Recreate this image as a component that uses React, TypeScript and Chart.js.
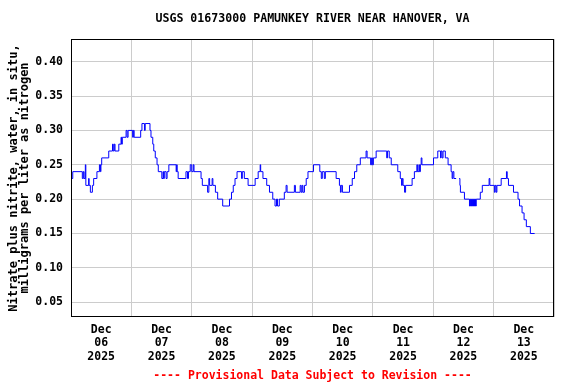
import React, { useEffect, useRef } from 'react';
import { Chart, registerables } from 'chart.js';

Chart.register(...registerables);

const TITLE = 'USGS 01673000 PAMUNKEY RIVER NEAR HANOVER, VA';
const Y_TITLE = ['Nitrate plus nitrite, water, in situ,', 'milligrams per liter as nitrogen'];
const FOOTER = '---- Provisional Data Subject to Revision ----';

const monthLabel = 'Dec';
const yearLabel = '2025';
const dayLabels = ['06', '07', '08', '09', '10', '11', '12', '13'];
const yTicks = [0.05, 0.1, 0.15, 0.2, 0.25, 0.3, 0.35, 0.4];

// hours since Dec 06 2025 00:00 where the reading changes
const hours = [
  0.0, 0.7, 4.5, 4.9, 5.2, 5.7, 5.9, 7.0, 7.2, 7.7, 8.5, 9.0, 10.3, 11.3, 11.7, 11.9, 12.2,
  15.0, 16.5, 16.8, 17.2, 17.5, 19.0, 19.9, 20.1, 20.4, 21.9, 22.3, 22.7, 24.5, 24.8, 25.1,
  27.7, 28.2, 29.2, 29.5, 31.4, 31.8, 32.5, 32.9, 33.5, 34.2, 34.7, 36.1, 36.6, 36.8, 37.1,
  37.8, 38.2, 38.9, 41.8, 42.0, 42.2, 42.6, 45.7, 46.3, 46.7, 47.4, 48.0, 48.6, 48.9, 51.7,
  52.2, 54.3, 54.8, 55.1, 56.1, 56.4, 57.4, 58.3, 60.3, 63.0, 63.8, 64.5, 65.2, 66.0, 67.8,
  68.1, 68.9, 70.4, 73.2, 74.4, 75.2, 75.4, 76.3, 77.8, 78.9, 80.2, 81.1, 81.7, 82.1, 82.8,
  84.8, 85.5, 85.9, 88.8, 89.2, 91.1, 91.5, 91.9, 92.2, 92.8, 93.5, 94.2, 96.4, 98.9, 99.5,
  99.9, 100.7, 101.1, 105.4, 106.7, 107.1, 107.4, 107.9, 110.7, 111.8, 112.7, 113.6, 115.0,
  117.3, 117.7, 119.1, 119.5, 119.8, 120.2, 121.3, 125.5, 125.8, 126.5, 127.3, 129.9, 130.9,
  131.4, 131.7, 132.0, 132.6, 133.0, 135.6, 136.5, 137.5, 137.7, 138.3, 138.5, 138.9, 139.2,
  139.5, 144.1, 145.8, 146.9, 147.1, 147.5, 147.9, 148.8, 149.9, 151.1, 151.5, 151.8, 152.2,
  153.1, 153.5, 154.3, 154.6, 154.8, 156.4, 158.4, 158.8, 159.2, 159.6, 160.0, 160.4, 160.8,
  161.1, 162.7, 163.5, 166.2, 166.5, 168.3, 168.6, 169.0, 169.3, 171.0, 173.1, 173.4, 173.9,
  175.9, 177.7, 178.3, 179.3, 180.1, 181.0, 182.6, 184.3,
];

const nitrate = [
  0.23, 0.24, 0.23, 0.24, 0.23, 0.25, 0.22, 0.23, 0.22, 0.21, 0.22, 0.23, 0.24, 0.25, 0.24, 0.25, 0.26,
  0.27, 0.28, 0.27, 0.28, 0.27, 0.28, 0.29, 0.28, 0.29, 0.30, 0.29, 0.30, 0.29, 0.30, 0.29,
  0.30, 0.31, 0.30, 0.31, 0.30, 0.29, 0.28, 0.27, 0.26, 0.25, 0.24, 0.23, 0.24, 0.23, 0.24,
  0.23, 0.24, 0.25, 0.24, 0.25, 0.24, 0.23, 0.24, 0.23, 0.24, 0.25, 0.24, 0.25, 0.24, 0.23,
  0.22, 0.21, 0.23, 0.22, 0.23, 0.22, 0.21, 0.20, 0.19, 0.20, 0.21, 0.22, 0.23, 0.24, 0.23,
  0.24, 0.23, 0.22, 0.23, 0.24, 0.25, 0.24, 0.23, 0.22, 0.21, 0.20, 0.19, 0.20, 0.19, 0.20,
  0.21, 0.22, 0.21, 0.22, 0.21, 0.22, 0.21, 0.22, 0.21, 0.22, 0.23, 0.24, 0.25, 0.24, 0.23,
  0.24, 0.23, 0.24, 0.23, 0.22, 0.21, 0.22, 0.21, 0.22, 0.23, 0.24, 0.25, 0.26,
  0.27, 0.26, 0.25, 0.26, 0.25, 0.26, 0.27, 0.26, 0.27, 0.26, 0.25, 0.24, 0.23,
  0.22, 0.23, 0.22, 0.21, 0.22, 0.23, 0.24, 0.25, 0.24, 0.25, 0.24, 0.25, 0.26,
  0.25, 0.26, 0.27, 0.26, 0.27, 0.26, 0.27, 0.26, 0.25, 0.24, 0.23, 0.24, 0.23,
  0.23, null, 0.23, 0.22, 0.21, 0.20, 0.19, 0.20, 0.19, 0.20, 0.19, 0.20, 0.19,
  0.20, 0.21, 0.22, 0.23, 0.22, 0.21, 0.22, 0.21, 0.22, 0.23, 0.24, 0.23, 0.22,
  0.21, 0.20, 0.19, 0.18, 0.17, 0.16, 0.15, 0.15,
];

const FONT = "'DejaVu Sans Mono', monospace";

const decorPlugin = {
  id: 'usgsDecor',
  afterDraw(chart: any) {
    const { ctx, chartArea: a } = chart;
    ctx.save();
    ctx.strokeStyle = '#000000';
    ctx.lineWidth = 1;
    ctx.strokeRect(a.left + 0.5, a.top + 0.5, a.right - a.left - 1, a.bottom - a.top - 1);
    const cx = (a.left + a.right) / 2;
    ctx.textAlign = 'center';
    ctx.textBaseline = 'middle';
    ctx.fillStyle = '#000000';
    ctx.font = `bold 11.6px ${FONT}`;
    ctx.fillText(TITLE, cx, 19);
    ctx.fillStyle = '#ff0000';
    ctx.font = `bold 11.5px ${FONT}`;
    ctx.fillText(FOOTER, cx, 376);
    ctx.restore();
  },
};

export default function App() {
  const canvasRef = useRef<HTMLCanvasElement | null>(null);

  useEffect(() => {
    const canvas = canvasRef.current;
    if (!canvas) return;
    const points = hours.map((h, i) => ({ x: h, y: nitrate[i] }));
    const xTickValues: number[] = [];
    for (let v = 0; v <= dayLabels.length * 24; v += 12) xTickValues.push(v);

    const chart = new Chart(canvas, {
      type: 'line',
      data: {
        datasets: [
          {
            data: points as any,
            borderColor: '#0000ff',
            borderWidth: 1,
            pointRadius: 0,
            stepped: true,
            spanGaps: false,
            fill: false,
          },
        ],
      },
      plugins: [decorPlugin],
      options: {
        animation: false,
        responsive: false,
        devicePixelRatio: 1,
        layout: { padding: { top: 39, right: 22, bottom: 0, left: 0 } },
        plugins: { legend: { display: false }, tooltip: { enabled: false }, title: { display: false } },
        scales: {
          x: {
            type: 'linear',
            min: 0,
            max: dayLabels.length * 24,
            afterBuildTicks: (scale: any) => {
              scale.ticks = xTickValues.map((v) => ({ value: v }));
            },
            afterFit: (scale: any) => {
              scale.height = 67;
            },
            border: { display: false },
            grid: {
              drawTicks: false,
              color: (c: any) => (c.tick && c.tick.value % 24 === 0 ? '#cccccc' : 'rgba(0,0,0,0)'),
              lineWidth: 1,
            },
            ticks: {
              autoSkip: false,
              maxRotation: 0,
              minRotation: 0,
              padding: 6,
              color: '#000000',
              font: { family: FONT, size: 11.5, weight: 'bold', lineHeight: '13.5px' },
              callback: (value: any) => {
                const v = Number(value);
                if (v % 24 !== 12) return '';
                const idx = (v - 12) / 24;
                return [monthLabel, dayLabels[idx], yearLabel];
              },
            },
          },
          y: {
            type: 'linear',
            min: 0.0285,
            max: 0.433,
            afterBuildTicks: (scale: any) => {
              scale.ticks = yTicks.map((v) => ({ value: v }));
            },
            afterFit: (scale: any) => {
              scale.width = 71;
            },
            border: { display: false },
            grid: { drawTicks: false, color: '#cccccc', lineWidth: 1 },
            ticks: {
              padding: 8,
              color: '#000000',
              font: { family: FONT, size: 11.5, weight: 'bold' },
              callback: (value: any) => Number(value).toFixed(2),
            },
            title: {
              display: true,
              text: Y_TITLE,
              color: '#000000',
              padding: { top: 8.5, bottom: 0 },
              font: { family: FONT, size: 12, weight: 'bold', lineHeight: '11px' },
            },
          },
        },
      },
    } as any);

    return () => {
      chart.destroy();
    };
  }, []);

  return (
    <div style={{ position: 'fixed', left: 0, top: 0, width: 576, height: 384, background: '#ffffff' }}>
      <canvas ref={canvasRef} width={576} height={384} style={{ display: 'block', width: 576, height: 384 }} />
    </div>
  );
}
